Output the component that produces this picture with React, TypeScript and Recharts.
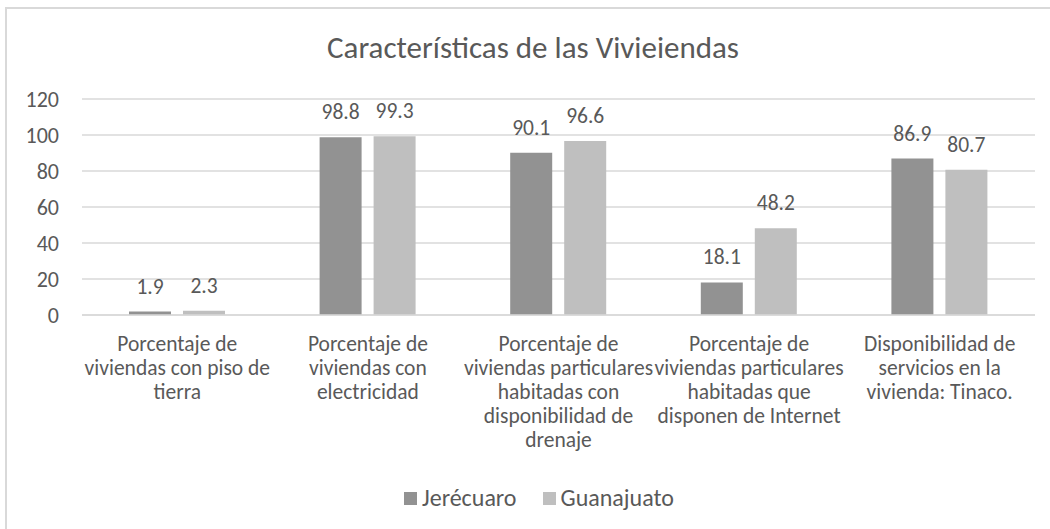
import React from 'react';
import { Bar, BarChart, CartesianGrid, LabelList, XAxis, YAxis } from 'recharts';

// Categorías (líneas tal como se cortan en el original)
const categoryLines: string[][] = [
  ['Porcentaje de', 'viviendas con piso de', 'tierra'],
  ['Porcentaje de', 'viviendas con', 'electricidad'],
  ['Porcentaje de', 'viviendas particulares', 'habitadas con', 'disponibilidad de', 'drenaje'],
  ['Porcentaje de', 'viviendas particulares', 'habitadas que', 'disponen de Internet'],
  ['Disponibilidad de', 'servicios en la', 'vivienda: Tinaco.'],
];

const jerecuaro = [1.9, 98.8, 90.1, 18.1, 86.9];
const guanajuato = [2.3, 99.3, 96.6, 48.2, 80.7];

const yTicks = [0, 20, 40, 60, 80, 100, 120];

const seriesNames = ['Jerécuaro', 'Guanajuato'];
const seriesColors = ['#929292', '#bfbfbf'];

const FONT = 'Carlito, Calibri, Lato, sans-serif';
const TEXT = '#595959';
const GRID = '#d9d9d9';

const data = categoryLines.map((lines, i) => ({
  name: lines.join(' '),
  jerecuaro: jerecuaro[i],
  guanajuato: guanajuato[i],
}));

const CategoryTick = (props: any) => {
  const { x, y, payload } = props;
  const lines = categoryLines[payload.index] || [payload.value];
  return (
    <text x={x} y={y} textAnchor="middle" fill={TEXT} fontFamily={FONT} fontSize={21.5}>
      {lines.map((l, i) => (
        <tspan key={i} x={x} y={y + 28 + i * 24}>
          {l}
        </tspan>
      ))}
    </text>
  );
};

export default function App() {
  return (
    <div
      style={{
        position: 'absolute',
        left: 5,
        top: 7,
        width: 1060,
        height: 560,
        border: `2px solid ${GRID}`,
        background: '#fff',
      }}
    >
      <div
        style={{
          position: 'absolute',
          left: 0,
          top: 20,
          width: 1060,
          paddingRight: 8,
          boxSizing: 'border-box',
          textAlign: 'center',
          fontFamily: FONT,
          fontSize: 31,
          color: TEXT,
          lineHeight: '36px',
        }}
      >
        Características de las Vivieiendas
      </div>
      <BarChart
        width={1060}
        height={560}
        data={data}
        margin={{ top: 90, right: 32, left: 0, bottom: 104 }}
        barGap={12}
        barSize={42}
      >
        <CartesianGrid vertical={false} stroke={GRID} strokeWidth={1.5} />
        <XAxis
          dataKey="name"
          axisLine={{ stroke: GRID, strokeWidth: 1.5 }}
          tickLine={false}
          interval={0}
          tick={<CategoryTick />}
          height={150}
        />
        <YAxis
          domain={[0, 120]}
          ticks={yTicks}
          width={75}
          axisLine={false}
          tickLine={false}
          tickMargin={17}
          tick={{ fill: TEXT, fontFamily: FONT, fontSize: 22 }}
        />
        <Bar dataKey="jerecuaro" name={seriesNames[0]} fill={seriesColors[0]} isAnimationActive={false}>
          <LabelList dataKey="jerecuaro" position="top" offset={18} fill={TEXT} fontFamily={FONT} fontSize={21.5} />
        </Bar>
        <Bar dataKey="guanajuato" name={seriesNames[1]} fill={seriesColors[1]} isAnimationActive={false}>
          <LabelList dataKey="guanajuato" position="top" offset={18} fill={TEXT} fontFamily={FONT} fontSize={21.5} />
        </Bar>
      </BarChart>
      <div
        style={{
          position: 'absolute',
          left: 0,
          top: 475,
          width: 1060,
          paddingLeft: 4,
          boxSizing: 'border-box',
          display: 'flex',
          justifyContent: 'center',
          alignItems: 'center',
          gap: 26,
          fontFamily: FONT,
          fontSize: 24,
          lineHeight: '28px',
          color: TEXT,
        }}
      >
        {seriesNames.map((n, i) => (
          <div key={n} style={{ display: 'flex', alignItems: 'center', gap: 5 }}>
            <span style={{ width: 13, height: 13, background: seriesColors[i], display: 'inline-block' }} />
            <span>{n}</span>
          </div>
        ))}
      </div>
    </div>
  );
}
